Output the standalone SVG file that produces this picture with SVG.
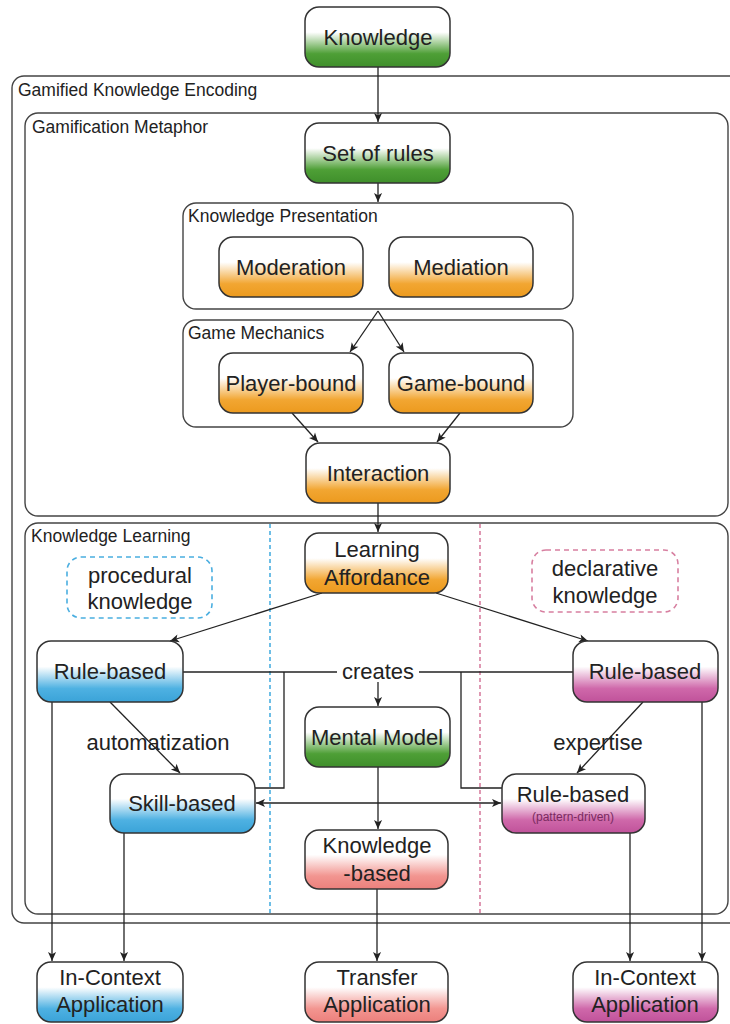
<svg xmlns="http://www.w3.org/2000/svg" width="730" height="1024" viewBox="0 0 730 1024">
<defs>
<linearGradient id="gGreen" x1="0" y1="0" x2="0" y2="1"><stop offset="0" stop-color="#fff"/><stop offset="0.42" stop-color="#fff"/><stop offset="0.78" stop-color="#4e9f36"/><stop offset="1" stop-color="#3f8f2b"/></linearGradient>
<linearGradient id="gOrange" x1="0" y1="0" x2="0" y2="1"><stop offset="0" stop-color="#fff"/><stop offset="0.42" stop-color="#fff"/><stop offset="0.78" stop-color="#f2a632"/><stop offset="1" stop-color="#ec9a1e"/></linearGradient>
<linearGradient id="gBlue" x1="0" y1="0" x2="0" y2="1"><stop offset="0" stop-color="#fff"/><stop offset="0.42" stop-color="#fff"/><stop offset="0.78" stop-color="#4eb1e2"/><stop offset="1" stop-color="#3aa3d8"/></linearGradient>
<linearGradient id="gMagenta" x1="0" y1="0" x2="0" y2="1"><stop offset="0" stop-color="#fff"/><stop offset="0.42" stop-color="#fff"/><stop offset="0.78" stop-color="#cf68aa"/><stop offset="1" stop-color="#c0529a"/></linearGradient>
<linearGradient id="gSalmon" x1="0" y1="0" x2="0" y2="1"><stop offset="0" stop-color="#fff"/><stop offset="0.42" stop-color="#fff"/><stop offset="0.78" stop-color="#f29590"/><stop offset="1" stop-color="#ec807c"/></linearGradient>
<marker id="arr" viewBox="0 0 10 10" refX="10" refY="5" markerWidth="10" markerHeight="9" markerUnits="userSpaceOnUse" orient="auto-start-reverse"><path d="M0,0.5 L10,5 L0,9.5 L2.5,5 z" fill="#222"/></marker>
<style>
.node{stroke:#333;stroke-width:1.5}
.box{fill:none;stroke:#444;stroke-width:1.4}
.t{font-family:"Liberation Sans",Arial,sans-serif;font-size:22px;fill:#222;text-anchor:middle}
.lbl{font-family:"Liberation Sans",Arial,sans-serif;font-size:17.5px;fill:#222}
.small{font-family:"Liberation Sans",Arial,sans-serif;font-size:12px;fill:#7a2a60;text-anchor:middle}
.c{fill:none;stroke:#222;stroke-width:1.3}
.a{marker-end:url(#arr)}
</style>
</defs>
<rect width="730" height="1024" fill="#fff"/>

<g id="containers">
<g id="gamified-knowledge-encoding"><rect class="box" x="12" y="76" width="740" height="847" rx="12"/><text class="lbl" x="18" y="96">Gamified Knowledge Encoding</text></g>
<g id="gamification-metaphor"><rect class="box" x="25" y="113" width="703" height="403" rx="13"/><text class="lbl" x="32" y="133">Gamification Metaphor</text></g>
<g id="knowledge-presentation"><rect class="box" x="183" y="203" width="390" height="106" rx="13"/><text class="lbl" x="188" y="222">Knowledge Presentation</text></g>
<g id="game-mechanics"><rect class="box" x="183" y="320" width="390" height="107" rx="13"/><text class="lbl" x="188" y="339">Game Mechanics</text></g>
<g id="knowledge-learning"><rect class="box" x="25" y="523" width="703" height="391" rx="13"/><text class="lbl" x="31" y="542">Knowledge Learning</text></g>
<line x1="270" y1="524" x2="270" y2="914" stroke="#4aaee0" stroke-width="1.6" stroke-dasharray="4 3"/>
<line x1="480" y1="524" x2="480" y2="914" stroke="#d77fa0" stroke-width="1.6" stroke-dasharray="4 3"/>
</g>

<g id="connectors">
<path class="c a" d="M378,67 V122"/>
<path class="c a" d="M378,183 V202"/>
<path class="c a" d="M378,311 L350,352"/>
<path class="c a" d="M378,311 L404,352"/>
<path class="c a" d="M292,413 L318,442"/>
<path class="c a" d="M460,413 L437,442"/>
<path class="c a" d="M378,503 V532"/>
<path class="c a" d="M322,593 L170,641"/>
<path class="c a" d="M436,593 L588,641"/>
<path class="c" d="M183,672 H337"/>
<path class="c" d="M419,672 H573"/>
<path class="c a" d="M378,682 V706"/>
<path class="c" d="M284,672 V788 H255"/>
<path class="c" d="M461,672 V788 H502"/>
<path class="c" d="M256,803 H501" marker-start="url(#arr)" marker-end="url(#arr)"/>
<path class="c a" d="M378,767 V829"/>
<path class="c a" d="M110,702 L180,773"/>
<path class="c a" d="M643,702 L577,773"/>
<path class="c a" d="M52,702 V961"/>
<path class="c a" d="M124,833 V961"/>
<path class="c a" d="M377,889 V961"/>
<path class="c a" d="M630,833 V961"/>
<path class="c a" d="M702,702 V961"/>
<text class="t" x="378" y="679">creates</text>
<text class="t" x="158" y="750">automatization</text>
<text class="t" x="598" y="750">expertise</text>
</g>

<g id="knowledge"><rect class="node" x="305" y="7" width="145" height="60" rx="14" fill="url(#gGreen)"/><text class="t" x="378" y="45">Knowledge</text></g>
<g id="set-of-rules"><rect class="node" x="305" y="123" width="145" height="60" rx="14" fill="url(#gGreen)"/><text class="t" x="378" y="161">Set of rules</text></g>
<g id="moderation"><rect class="node" x="219" y="237" width="144" height="60" rx="14" fill="url(#gOrange)"/><text class="t" x="291" y="275">Moderation</text></g>
<g id="mediation"><rect class="node" x="389" y="237" width="144" height="60" rx="14" fill="url(#gOrange)"/><text class="t" x="461" y="275">Mediation</text></g>
<g id="player-bound"><rect class="node" x="219" y="353" width="144" height="60" rx="14" fill="url(#gOrange)"/><text class="t" x="291" y="391">Player-bound</text></g>
<g id="game-bound"><rect class="node" x="389" y="353" width="144" height="60" rx="14" fill="url(#gOrange)"/><text class="t" x="461" y="391">Game-bound</text></g>
<g id="interaction"><rect class="node" x="306" y="443" width="144" height="60" rx="14" fill="url(#gOrange)"/><text class="t" x="378" y="481">Interaction</text></g>
<g id="learning-affordance"><rect class="node" x="305" y="533" width="143" height="60" rx="14" fill="url(#gOrange)"/><text class="t" x="377" y="557">Learning</text><text class="t" x="377" y="585">Affordance</text></g>
<g id="procedural-knowledge"><rect x="67" y="557" width="145" height="61" rx="14" fill="none" stroke="#4aaee0" stroke-width="1.6" stroke-dasharray="5 4"/><text class="t" x="140" y="583">procedural</text><text class="t" x="140" y="609">knowledge</text></g>
<g id="declarative-knowledge"><rect x="532" y="550" width="146" height="62" rx="14" fill="none" stroke="#d77fa0" stroke-width="1.6" stroke-dasharray="5 4"/><text class="t" x="605" y="576">declarative</text><text class="t" x="605" y="603">knowledge</text></g>
<g id="rule-based-left"><rect class="node" x="37" y="641" width="146" height="61" rx="14" fill="url(#gBlue)"/><text class="t" x="110" y="679">Rule-based</text></g>
<g id="rule-based-right"><rect class="node" x="573" y="641" width="145" height="61" rx="14" fill="url(#gMagenta)"/><text class="t" x="645" y="679">Rule-based</text></g>
<g id="mental-model"><rect class="node" x="305" y="707" width="145" height="60" rx="14" fill="url(#gGreen)"/><text class="t" x="377" y="745">Mental Model</text></g>
<g id="skill-based"><rect class="node" x="110" y="774" width="145" height="59" rx="14" fill="url(#gBlue)"/><text class="t" x="182" y="811">Skill-based</text></g>
<g id="rule-based-pattern"><rect class="node" x="502" y="774" width="143" height="59" rx="14" fill="url(#gMagenta)"/><text class="t" x="573" y="802">Rule-based</text><text class="small" x="573" y="821">(pattern-driven)</text></g>
<g id="knowledge-based"><rect class="node" x="305" y="830" width="143" height="59" rx="14" fill="url(#gSalmon)"/><text class="t" x="377" y="853">Knowledge</text><text class="t" x="377" y="881">-based</text></g>
<g id="in-context-left"><rect class="node" x="37" y="962" width="146" height="60" rx="14" fill="url(#gBlue)"/><text class="t" x="110" y="985">In-Context</text><text class="t" x="110" y="1012">Application</text></g>
<g id="transfer-application"><rect class="node" x="305" y="962" width="143" height="60" rx="14" fill="url(#gSalmon)"/><text class="t" x="377" y="985">Transfer</text><text class="t" x="377" y="1012">Application</text></g>
<g id="in-context-right"><rect class="node" x="573" y="962" width="145" height="60" rx="14" fill="url(#gMagenta)"/><text class="t" x="645" y="985">In-Context</text><text class="t" x="645" y="1012">Application</text></g>
</svg>
